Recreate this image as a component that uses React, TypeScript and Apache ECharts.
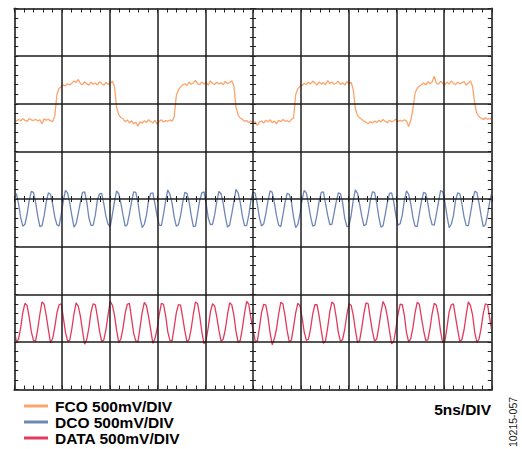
import React, { useEffect, useRef } from "react";
import * as echarts from "echarts";

// Oscilloscope sample interval (ns): 56 samples per FCO period of 12.5 ns
const SAMPLE_NS = 12.5 / 56;

const TIME_MIN = 0;
const TIME_MAX = 50;
const TIME_DIV = 5;
const MV_MIN = -2000;
const MV_MAX = 2000;
const MV_DIV = 500;

const SERIES_NAMES = ["FCO 500mV/DIV", "DCO 500mV/DIV", "DATA 500mV/DIV"];
const SERIES_COLORS = ["#FBA46C", "#6F87B5", "#E23A5C"];
const TIMEBASE_LABEL = "5ns/DIV";
const FIGURE_ID = "10215-057";

// FCO trace (mV)
const FCO = [
  800, 818, 835, 822, 842, 826, 815, 845,
  830, 824, 838, 820, 832, 790, 842, 828,
  836, 822, 812, 870, 1100, 1160, 1178, 1195,
  1188, 1210, 1198, 1215, 1240, 1222, 1255, 1212,
  1200, 1232, 1208, 1196, 1226, 1204, 1218, 1198,
  1232, 1210, 1194, 1222, 1204, 1216, 1235, 1180,
  960, 885, 855, 842, 812, 830, 798, 822,
  790, 806, 765, 812, 795, 822, 804, 832,
  814, 798, 826, 785, 816, 832, 808, 824,
  816, 830, 818, 860, 1085, 1150, 1175, 1198,
  1210, 1192, 1228, 1205, 1220, 1245, 1212, 1200,
  1230, 1208, 1222, 1195, 1240, 1214, 1202, 1226,
  1208, 1220, 1198, 1235, 1210, 1224, 1240, 1190,
  965, 880, 850, 838, 815, 826, 800, 818,
  795, 812, 772, 806, 820, 798, 828, 810,
  832, 802, 818, 790, 826, 812, 834, 815,
  822, 808, 836, 850, 1095, 1158, 1182, 1192,
  1215, 1200, 1226, 1208, 1238, 1218, 1196, 1230,
  1206, 1222, 1200, 1244, 1212, 1228, 1204, 1218,
  1236, 1202, 1220, 1195, 1232, 1210, 1226, 1150,
  950, 878, 852, 835, 818, 806, 790, 812,
  798, 820, 802, 826, 810, 834, 815, 800,
  828, 808, 822, 838, 812, 826, 816, 832,
  818, 760, 824, 950, 1110, 1162, 1185, 1200,
  1218, 1196, 1232, 1210, 1228, 1290, 1215, 1205,
  1236, 1212, 1198, 1228, 1206, 1240, 1216, 1200,
  1226, 1208, 1222, 1234, 1196, 1218, 1238, 1180,
  1000, 900, 866, 848, 836, 852, 838, 845,
  840,
];

// DCO trace (mV)
const DCO = [
  60, 55, -50, -195, -285, -265, -160, -15,
  80, 70, -35, -180, -290, -280, -175, -30,
  65, 50, -55, -190, -270, -285, -160, -20,
  90, 65, -40, -175, -295, -260, -150, -35,
  70, 75, -30, -200, -280, -275, -170, -10,
  55, 60, -50, -185, -265, -290, -165, -25,
  85, 55, -45, -170, -285, -270, -155, -30,
  75, 70, -35, -195, -300, -265, -170, -15,
  60, 65, -55, -180, -275, -280, -160, -20,
  95, 50, -40, -190, -285, -270, -175, -35,
  70, 60, -30, -175, -290, -285, -150, -10,
  65, 75, -50, -200, -270, -265, -165, -25,
  80, 55, -45, -185, -295, -275, -160, -30,
  100, 65, -35, -180, -280, -280, -170, -15,
  75, 60, -55, -195, -285, -260, -155, -20,
  85, 70, -40, -175, -275, -290, -170, -35,
  60, 50, -30, -190, -300, -270, -160, -10,
  90, 65, -50, -185, -285, -275, -165, -25,
  70, 75, -45, -170, -270, -265, -150, -30,
  65, 55, -35, -200, -290, -285, -175, -15,
  95, 60, -55, -180, -280, -270, -160, -20,
  75, 70, -40, -190, -295, -280, -165, -35,
  60, 65, -30, -175, -275, -260, -170, -10,
  85, 50, -50, -195, -285, -290, -155, -25,
  70, 60, -45, -185, -270, -275, -160, -30,
  90, 75, -35, -180, -300, -265, -175, -15,
  65, 55, -55, -190, -280, -280, -150, -20,
  80, 70, -40, -175, -290, -270, -165, -30,
  70,
];

// DATA trace (mV)
const DATA = [
  -1380, -1500, -1470, -1350, -1190, -1095, -1120, -1240,
  -1395, -1485, -1490, -1365, -1210, -1080, -1105, -1225,
  -1375, -1510, -1465, -1345, -1195, -1110, -1100, -1245,
  -1400, -1490, -1485, -1360, -1205, -1090, -1125, -1230,
  -1385, -1525, -1475, -1350, -1185, -1100, -1110, -1240,
  -1390, -1495, -1480, -1370, -1215, -1075, -1115, -1220,
  -1380, -1505, -1470, -1355, -1200, -1105, -1095, -1250,
  -1410, -1490, -1500, -1345, -1190, -1085, -1120, -1235,
  -1375, -1515, -1465, -1365, -1210, -1095, -1105, -1225,
  -1395, -1485, -1490, -1350, -1195, -1110, -1115, -1245,
  -1385, -1500, -1475, -1360, -1205, -1080, -1100, -1230,
  -1400, -1520, -1480, -1345, -1185, -1100, -1125, -1240,
  -1380, -1495, -1470, -1370, -1215, -1090, -1110, -1220,
  -1390, -1505, -1485, -1355, -1200, -1075, -1105, -1250,
  -1375, -1490, -1495, -1350, -1190, -1105, -1115, -1235,
  -1405, -1530, -1465, -1365, -1210, -1085, -1100, -1225,
  -1385, -1500, -1480, -1345, -1195, -1095, -1120, -1245,
  -1395, -1485, -1470, -1360, -1205, -1110, -1110, -1230,
  -1380, -1515, -1490, -1350, -1185, -1080, -1105, -1240,
  -1400, -1495, -1475, -1370, -1215, -1100, -1115, -1220,
  -1375, -1505, -1485, -1355, -1200, -1090, -1100, -1250,
  -1390, -1490, -1470, -1345, -1190, -1075, -1125, -1235,
  -1385, -1520, -1495, -1365, -1210, -1105, -1110, -1225,
  -1405, -1500, -1465, -1350, -1195, -1085, -1105, -1245,
  -1380, -1485, -1480, -1360, -1205, -1095, -1115, -1230,
  -1395, -1510, -1490, -1345, -1185, -1110, -1100, -1240,
  -1375, -1495, -1475, -1370, -1215, -1080, -1120, -1220,
  -1400, -1505, -1470, -1355, -1200, -1100, -1110, -1250,
  -1385,
];

const TRACES = [FCO, DCO, DATA];

const PLOT = { left: 14.3, top: 8.5, width: 477.5, height: 381 };

const FONT = '"Liberation Sans", Arial, Helvetica, sans-serif';

function toPairs(values: number[]) {
  return values.map((v, i) => [i * SAMPLE_NS, v]);
}

function borderAxis(kind: "x" | "y", position: string, split: boolean) {
  const isX = kind === "x";
  return {
    type: "value",
    gridIndex: 0,
    position,
    min: isX ? TIME_MIN : MV_MIN,
    max: isX ? TIME_MAX : MV_MAX,
    interval: isX ? TIME_DIV : MV_DIV,
    axisLine: { show: true, onZero: false, lineStyle: { color: "#4a4a4a", width: 2 } },
    axisTick: { show: true, inside: true, length: 4, lineStyle: { color: "#222", width: 1 } },
    minorTick: { show: true, splitNumber: 5, length: 4, lineStyle: { color: "#222", width: 1 } },
    axisLabel: { show: false },
    splitLine: { show: split, lineStyle: { color: "#1c1c1c", width: 1.5 } },
    minorSplitLine: { show: false },
  };
}

function centerAxis(kind: "x" | "y", gridIndex: number, position: string) {
  const isX = kind === "x";
  return {
    type: "value",
    gridIndex,
    position,
    min: isX ? TIME_MIN : MV_MIN,
    max: isX ? TIME_MAX : MV_MAX,
    interval: isX ? TIME_DIV : MV_DIV,
    axisLine: { show: false, onZero: false },
    axisTick: { show: true, inside: true, length: 3, lineStyle: { color: "#222", width: 1 } },
    minorTick: { show: true, splitNumber: 5, length: 3, lineStyle: { color: "#222", width: 1 } },
    axisLabel: { show: false },
    splitLine: { show: false },
  };
}

function hiddenAxis(gridIndex: number) {
  return { type: "value", gridIndex, show: false, min: 0, max: 1, axisLine: { onZero: false } };
}

export default function App() {
  const ref = useRef<HTMLDivElement>(null);

  useEffect(() => {
    if (!ref.current) return;
    const chart = echarts.init(ref.current, undefined, { renderer: "svg", width: 522, height: 449 });

    const halfH = PLOT.height / 2;
    const halfW = PLOT.width / 2;

    const option: any = {
      animation: false,
      backgroundColor: "#ffffff",
      grid: [
        { ...PLOT },
        { left: PLOT.left, top: PLOT.top, width: PLOT.width, height: halfH },
        { left: PLOT.left, top: PLOT.top + halfH, width: PLOT.width, height: halfH },
        { left: PLOT.left, top: PLOT.top, width: halfW, height: PLOT.height },
        { left: PLOT.left + halfW, top: PLOT.top, width: halfW, height: PLOT.height },
      ],
      xAxis: [
        borderAxis("x", "bottom", true),
        borderAxis("x", "top", false),
        centerAxis("x", 1, "bottom"),
        centerAxis("x", 2, "top"),
        hiddenAxis(3),
        hiddenAxis(4),
      ],
      yAxis: [
        borderAxis("y", "left", true),
        borderAxis("y", "right", false),
        hiddenAxis(1),
        hiddenAxis(2),
        centerAxis("y", 3, "right"),
        centerAxis("y", 4, "left"),
      ],
      legend: {
        data: SERIES_NAMES,
        orient: "vertical",
        left: 24,
        top: 398,
        height: 51,
        padding: 0,
        itemWidth: 24,
        itemHeight: 3,
        itemGap: 0,
        icon: "rect",
        selectedMode: false,
        textStyle: {
          fontFamily: FONT,
          fontWeight: "bold",
          fontSize: 15.5,
          color: "#000",
          lineHeight: 16,
          padding: [0, 0, 0, 2],
        },
      },
      graphic: [
        {
          type: "text",
          x: 491,
          y: 409,
          style: {
            text: TIMEBASE_LABEL,
            font: `bold 15.5px ${FONT}`,
            fill: "#000",
            align: "right",
            verticalAlign: "middle",
          },
        },
        {
          type: "text",
          x: 513,
          y: 422,
          rotation: Math.PI / 2,
          style: {
            text: FIGURE_ID,
            font: `10.5px ${FONT}`,
            fill: "#222",
            align: "center",
            verticalAlign: "middle",
          },
        },
      ],
      series: SERIES_NAMES.map((name, k) => ({
        name,
        type: "line",
        xAxisIndex: 0,
        yAxisIndex: 0,
        data: toPairs(TRACES[k]),
        showSymbol: false,
        symbol: "none",
        color: SERIES_COLORS[k],
        lineStyle: { color: SERIES_COLORS[k], width: 1.3 },
        z: -1,
        silent: true,
      })),
    };

    chart.setOption(option);
    return () => chart.dispose();
  }, []);

  return (
    <div
      ref={ref}
      style={{ position: "fixed", left: 0, top: 0, width: 522, height: 449, background: "#fff" }}
    />
  );
}
